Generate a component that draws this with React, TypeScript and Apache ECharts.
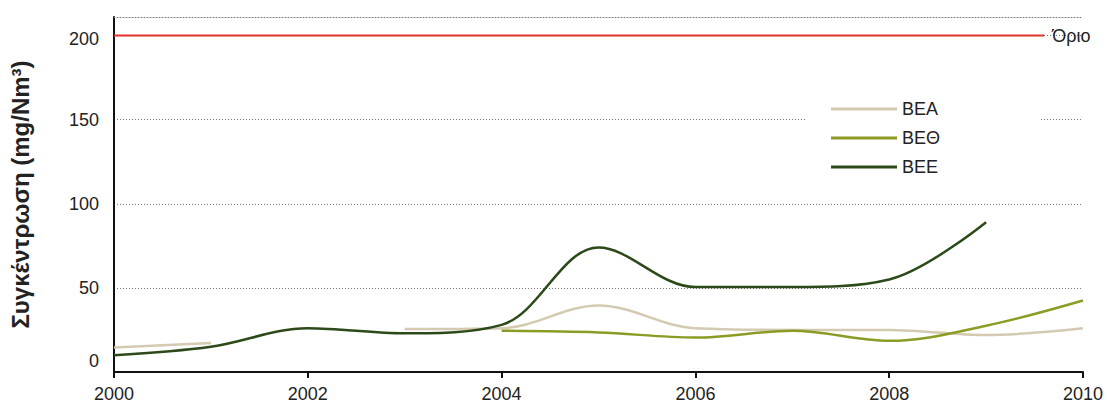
import React, { useEffect, useRef } from "react";
import * as echarts from "echarts";

const years = [2000, 2001, 2002, 2003, 2004, 2005, 2006, 2007, 2008, 2009, 2010];
const valuesBEA = [14.5, 17.3, null, 25.5, 26, 39.5, 26, 25, 25, 22, 26];
const valuesBETH = [null, null, null, null, 24.5, 23.5, 20.5, 24.5, 18.5, 27.5, 42.5];
const valuesBEE = [10, 15, 26, 23, 28, 74, 50.5, 50.5, 55, 89, null];
const limitYears = [2000, 2009.6];
const limitValues = [200, 200];
const yTicks = [0, 50, 100, 150, 200];

const pairs = (xs: number[], ys: (number | null)[]) => xs.map((x, i) => [x, ys[i]]);

const FONT = '"Liberation Sans", Arial, sans-serif';
const SMOOTH = 0.35;

export default function App() {
  const ref = useRef<HTMLDivElement>(null);
  useEffect(() => {
    const chart = echarts.init(ref.current!, null, { renderer: "svg" });
    chart.setOption({
      animation: false,
      textStyle: { fontFamily: FONT },
      grid: { left: 112, right: 24, top: 17, bottom: 31 },
      legend: {
        data: ["BEA", "BEΘ", "BEE"],
        orient: "vertical",
        left: 805,
        top: 90,
        padding: [10, 100, 10, 26],
        backgroundColor: "#ffffff",
        icon: "rect",
        itemWidth: 66,
        itemHeight: 3,
        itemGap: 11,
        textStyle: { fontFamily: FONT, fontSize: 18, color: "#222", lineHeight: 18 },
      },
      xAxis: [
        {
          type: "value",
          min: 2000,
          max: 2010,
          interval: 2,
          axisLine: { show: true, lineStyle: { color: "#111", width: 2 } },
          axisTick: { show: true, length: 6, lineStyle: { color: "#111", width: 2 } },
          axisLabel: {
            color: "#222",
            fontSize: 18,
            margin: 13,
            fontFamily: FONT,
            formatter: (v: number) => String(v),
          },
          splitLine: { show: false },
        },
        {
          type: "value",
          position: "top",
          min: 2000,
          max: 2010,
          axisLine: { show: true, lineStyle: { color: "#777", width: 1, type: [1, 2] } },
          axisTick: { show: false },
          axisLabel: { show: false },
          splitLine: { show: false },
        },
      ],
      yAxis: {
        type: "value",
        min: 0,
        max: 211,
        interval: 50,
        name: "Συγκέντρωση (mg/Nm³)",
        nameLocation: "middle",
        nameGap: 82,
        nameTextStyle: { fontSize: 24, fontWeight: "bold", color: "#222", fontFamily: FONT },
        axisLine: { show: true, lineStyle: { color: "#111", width: 2 } },
        axisTick: { show: false },
        axisLabel: {
          color: "#222",
          fontSize: 18,
          margin: 15,
          fontFamily: FONT,
          formatter: (v: number) =>
            v === 0 ? "{z|0}" : v === 200 ? "{t|200}" : yTicks.includes(v) ? String(v) : "",
          rich: {
            z: { fontSize: 18, color: "#222", fontFamily: FONT, padding: [0, 0, 22, 0] },
            t: { fontSize: 18, color: "#222", fontFamily: FONT, padding: [7, 0, 0, 0] },
          },
        },
        splitLine: { show: true, lineStyle: { color: "#777", width: 1, type: [1, 2] } },
      },
      series: [
        {
          name: "Όριο",
          type: "line",
          data: pairs(limitYears, limitValues),
          showSymbol: false,
          symbol: "none",
          lineStyle: { color: "#e2302a", width: 2 },
          itemStyle: { color: "#e2302a" },
          endLabel: { show: true, formatter: "Όριο", color: "#222", fontSize: 18, distance: 8, fontFamily: FONT },
          z: 3,
        },
        {
          name: "BEA",
          type: "line",
          data: pairs(years, valuesBEA),
          smooth: SMOOTH,
          connectNulls: false,
          showSymbol: false,
          symbol: "none",
          lineStyle: { color: "#d4cab1", width: 2.5 },
          itemStyle: { color: "#d4cab1" },
        },
        {
          name: "BEΘ",
          type: "line",
          data: pairs(years, valuesBETH),
          smooth: SMOOTH,
          showSymbol: false,
          symbol: "none",
          lineStyle: { color: "#8b9b23", width: 2.5 },
          itemStyle: { color: "#8b9b23" },
        },
        {
          name: "BEE",
          type: "line",
          data: pairs(years, valuesBEE),
          smooth: SMOOTH,
          showSymbol: false,
          symbol: "none",
          lineStyle: { color: "#2c4a19", width: 2.5 },
          itemStyle: { color: "#2c4a19" },
        },
      ],
    });
    return () => chart.dispose();
  }, []);
  return <div ref={ref} style={{ position: "absolute", left: 0, top: 0, width: 1107, height: 403 }} />;
}
